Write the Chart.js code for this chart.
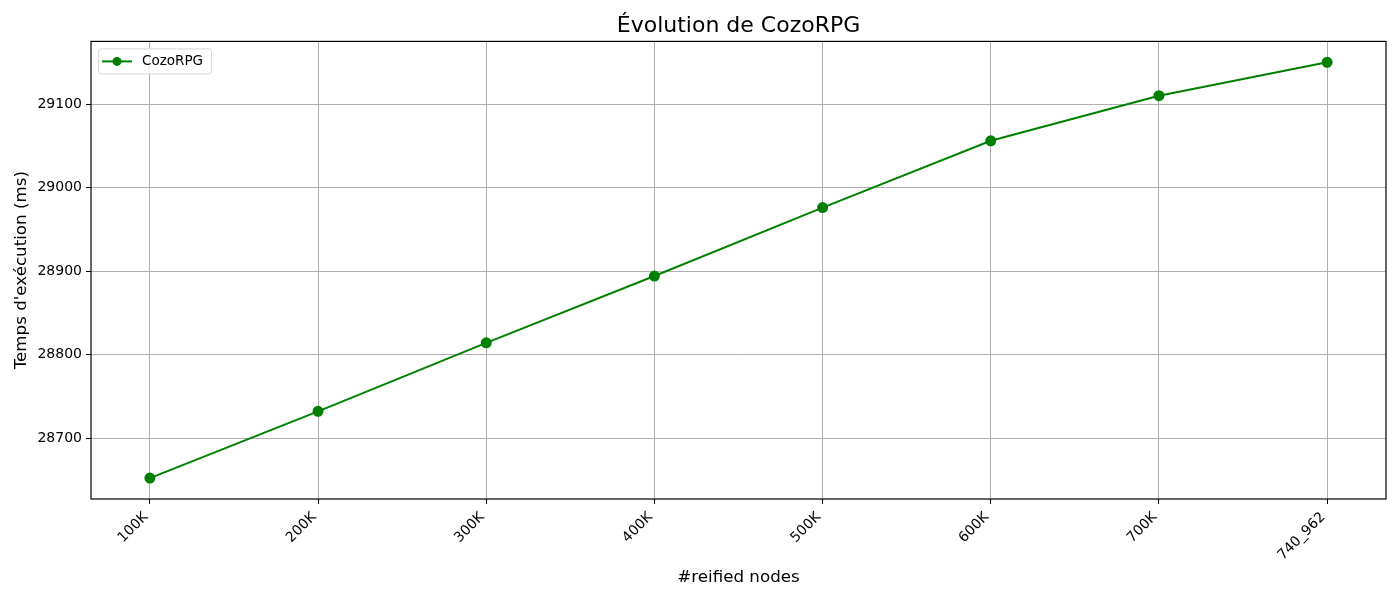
<!DOCTYPE html>
<html>
<head>
<meta charset="utf-8">
<script src="https://cdn.jsdelivr.net/npm/chart.js@4.4.1/dist/chart.umd.min.js"></script>
<style>
  html, body { margin: 0; padding: 0; background: #fff; }
  #wrap { width: 1400px; height: 600px; }
</style>
</head>
<body>
<div id="wrap"><canvas id="grafico"></canvas></div>
<script>
// donnees
const categories = ['100K', '200K', '300K', '400K', '500K', '600K', '700K', '740_962'];
const tempsCozo = [28652, 28732, 28814, 28894, 28976, 29056, 29110, 29150];
const yTicks = [28700, 28800, 28900, 29000, 29100];

const FONT = 'DejaVu Sans';

// legende facon matplotlib, dans la zone du graphique
const legendeInterne = {
    id: 'legendeInterne',
    afterDraw(chart) {
        const ctx = chart.ctx;
        const area = chart.chartArea;
        const ds = chart.data.datasets[0];
        const x = area.left + 7, y = area.top + 7;
        ctx.save();
        ctx.font = '13.5px ' + FONT;
        const w = 113, h = 25;
        ctx.fillStyle = 'rgba(255,255,255,0.8)';
        ctx.strokeStyle = '#d6d6d6';
        ctx.lineWidth = 1;
        ctx.beginPath();
        ctx.roundRect(x + 0.5, y + 0.5, w, h, 3);
        ctx.fill();
        ctx.stroke();
        const cy = y + h / 2 + 0.5;
        ctx.strokeStyle = ds.borderColor;
        ctx.lineWidth = 2;
        ctx.beginPath();
        ctx.moveTo(x + 4, cy);
        ctx.lineTo(x + 34, cy);
        ctx.stroke();
        ctx.fillStyle = ds.pointBackgroundColor;
        ctx.beginPath();
        ctx.arc(x + 19, cy, 4.5, 0, Math.PI * 2);
        ctx.fill();
        ctx.fillStyle = '#000';
        ctx.textBaseline = 'middle';
        ctx.fillText(ds.label, x + 44, cy);
        ctx.restore();
    }
};

// cadre noir autour des axes
const cadre = {
    id: 'cadre',
    afterDatasetsDraw(chart) {
        const a = chart.chartArea;
        const ctx = chart.ctx;
        ctx.save();
        ctx.strokeStyle = '#000';
        ctx.lineWidth = 1.2;
        ctx.strokeRect(a.left, a.top, a.right - a.left, a.bottom - a.top);
        ctx.restore();
    }
};

function dessinerGraphique() {
    const ctx = document.getElementById('grafico').getContext('2d');
    const pad = 0.35;
    const yMin = 28627, yMax = 29175;
    new Chart(ctx, {
        type: 'line',
        data: {
            datasets: [{
                label: 'CozoRPG',
                data: tempsCozo.map((v, i) => ({ x: i, y: v })),
                borderColor: '#008000',
                backgroundColor: '#008000',
                pointBackgroundColor: '#008000',
                pointBorderColor: '#008000',
                pointRadius: 4.5,
                pointHoverRadius: 4.5,
                borderWidth: 2,
                tension: 0
            }]
        },
        options: {
            responsive: true,
            maintainAspectRatio: false,
            animation: false,
            devicePixelRatio: 1,
            layout: { padding: { left: 0, right: 14, top: 0, bottom: 0 } },
            plugins: {
                legend: { display: false },
                tooltip: { enabled: false },
                title: {
                    display: true,
                    text: 'Évolution de CozoRPG',
                    fullSize: false,
                    color: '#000',
                    font: { family: FONT, size: 22, weight: 'normal' },
                    padding: { top: 13, bottom: 2 }
                }
            },
            scales: {
                x: {
                    type: 'linear',
                    min: -pad,
                    max: categories.length - 1 + pad,
                    afterBuildTicks: s => { s.ticks = categories.map((c, i) => ({ value: i })); },
                    afterFit: s => { s.height = 101; },
                    grid: { color: '#b0b0b0', lineWidth: 1, tickColor: '#000', tickLength: 5, drawTicks: true },
                    border: { display: false },
                    ticks: {
                        color: '#000',
                        font: { family: FONT, size: 14 },
                        minRotation: 45,
                        maxRotation: 45,
                        autoSkip: false,
                        padding: 5,
                        labelOffset: -4,
                        callback: v => categories[v]
                    },
                    title: {
                        display: true,
                        text: '#reified nodes',
                        color: '#000',
                        font: { family: FONT, size: 16.7 },
                        padding: { top: 0, bottom: 12 }
                    }
                },
                y: {
                    min: yMin,
                    max: yMax,
                    afterBuildTicks: s => { s.ticks = yTicks.map(v => ({ value: v })); },
                    afterFit: s => { s.width = 91; },
                    grid: { color: '#b0b0b0', lineWidth: 1, tickColor: '#000', tickLength: 5 },
                    border: { display: false },
                    ticks: {
                        color: '#000',
                        font: { family: FONT, size: 14 },
                        padding: 4,
                        callback: v => String(v)
                    },
                    title: {
                        display: true,
                        text: "Temps d'exécution (ms)",
                        color: '#000',
                        font: { family: FONT, size: 16.7 },
                        padding: { top: 12, bottom: 0 }
                    }
                }
            }
        },
        plugins: [cadre, legendeInterne]
    });
}

dessinerGraphique();
</script>
</body>
</html>
